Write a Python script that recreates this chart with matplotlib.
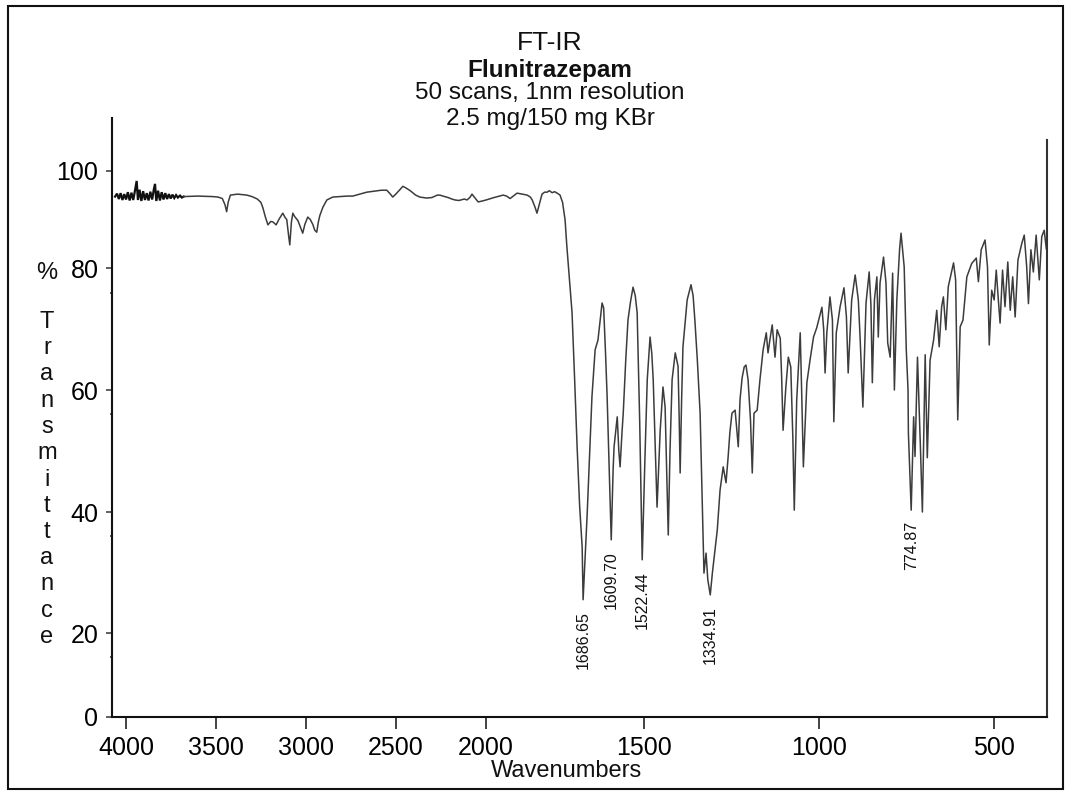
import numpy as np
import matplotlib
matplotlib.use("Agg")
import matplotlib.pyplot as plt
from matplotlib.patches import Rectangle

# spectrum (cm-1, %T)
WAVENUMBER = [
    4061, 4050, 4040, 4030, 4020, 4010, 4000, 3990, 3980, 3970, 3960, 3950, 3941, 3934,
    3925, 3915, 3905, 3895, 3885, 3875, 3865, 3855, 3845, 3839, 3832, 3822, 3812, 3802,
    3792, 3782, 3772, 3762, 3752, 3742, 3732, 3722, 3712, 3700, 3690, 3680,
    3600, 3520, 3489, 3465, 3450, 3441, 3432, 3420, 3380, 3328, 3300, 3270, 3250, 3239,
    3225, 3211, 3195, 3183, 3165, 3150, 3128, 3115, 3106, 3095, 3089, 3080, 3072, 3062,
    3044, 3017, 3005, 2989, 2975, 2961, 2950, 2939, 2930, 2922, 2905, 2883, 2850, 2811,
    2770, 2739, 2700, 2661, 2620, 2580, 2550, 2530, 2517, 2500, 2475, 2461, 2445, 2420,
    2390, 2367, 2330, 2300, 2270, 2256, 2239, 2210, 2190, 2172, 2150, 2120, 2106, 2090,
    2078, 2065, 2044, 2020, 2000, 1975, 1946, 1935, 1924, 1910, 1902, 1885, 1870, 1860,
    1854, 1845, 1839, 1832, 1823, 1815, 1807, 1800, 1791, 1783, 1775, 1766, 1758, 1750,
    1745, 1741, 1735, 1728, 1720, 1712, 1704, 1696, 1693, 1686, 1680, 1672, 1665, 1655,
    1646, 1640, 1633, 1628, 1622, 1617, 1610, 1604, 1598, 1595, 1585, 1580, 1576, 1570,
    1566, 1558, 1551, 1543, 1535, 1528, 1522, 1514, 1506, 1498, 1491, 1483, 1478, 1474,
    1468, 1463, 1458, 1454, 1446, 1440, 1436, 1431, 1426, 1420, 1411, 1403, 1400, 1397,
    1393, 1389, 1377, 1366, 1360, 1355, 1348, 1340, 1334, 1329, 1323, 1318, 1311, 1305,
    1298, 1291, 1283, 1274, 1266, 1260, 1255, 1249, 1240, 1231, 1226, 1220, 1214, 1209,
    1203, 1196, 1191, 1186, 1177, 1169, 1160, 1151, 1146, 1140, 1134, 1126, 1120, 1111,
    1107, 1103, 1095, 1088, 1081, 1075, 1071, 1064, 1054, 1050, 1045, 1035, 1026, 1016,
    1007, 992, 987, 983, 978, 969, 962, 958, 951, 940, 929, 922, 917, 907, 897, 888, 883,
    875, 866, 857, 852, 848, 842, 835, 831, 826, 816, 809, 804, 797, 790, 785, 778, 770,
    766, 757, 751, 746, 745, 737, 730, 726, 719, 711, 705, 697, 691, 683, 673, 664, 657,
    650, 645, 638, 631, 616, 610, 604, 597, 589, 578, 564, 551, 545, 537, 526, 519, 514,
    507, 500, 494, 488, 483, 476, 469, 461, 454, 447, 440, 432, 421, 414, 407, 402, 395,
    388, 380, 371, 364, 357, 351,
]
TRANSMITTANCE = [
    94.7, 95.3, 94.2, 95.4, 94.0, 95.2, 94.1, 95.6, 93.9, 95.5, 94.0, 96.0, 97.9, 94.0,
    96.1, 93.8, 95.8, 94.0, 95.4, 93.9, 95.7, 94.1, 96.3, 97.3, 93.8, 95.9, 93.9, 95.6,
    94.1, 95.4, 94.2, 95.2, 94.3, 95.1, 94.4, 95.0, 94.5, 94.9, 94.5, 94.7,
    94.8, 94.7, 94.6, 94.3, 93.0, 91.6, 93.6, 95.0, 95.2, 95.0, 94.7, 94.2, 93.5, 92.4,
    90.5, 88.9, 89.6, 89.5, 88.9, 90.0, 91.3, 90.4, 90.0, 86.5, 84.8, 89.5, 91.3, 90.6,
    89.8, 87.2, 89.0, 90.5, 90.0, 89.0, 87.8, 87.4, 89.5, 90.8, 92.5, 94.0, 94.6, 94.7,
    94.8, 94.8, 95.2, 95.6, 95.8, 96.0, 96.0, 95.2, 94.6, 95.2, 96.2, 96.8, 96.5, 95.9,
    95.0, 94.6, 94.4, 94.5, 95.0, 95.0, 94.8, 94.5, 94.2, 94.0, 93.9, 94.2, 94.0, 94.5,
    95.2, 94.6, 93.6, 93.8, 94.0, 94.5, 95.0, 94.8, 94.3, 95.0, 95.4, 95.2, 95.0, 94.6,
    94.0, 92.5, 91.3, 93.0, 95.2, 95.6, 95.6, 95.9, 95.5, 95.7, 95.4, 95.0, 93.5, 89.9,
    85.0, 81.7, 77.5, 72.7, 62.0, 50.7, 41.0, 34.2, 25.5, 33.0, 39.8, 50.0, 58.9, 66.6,
    68.2, 71.0, 74.3, 73.5, 66.0, 58.9, 46.0, 35.4, 47.0, 50.7, 55.6, 50.0, 47.4, 53.0,
    56.2, 65.0, 71.5, 74.5, 76.9, 75.5, 72.7, 55.0, 32.1, 48.0, 61.7, 68.7, 66.0, 61.7,
    50.0, 40.8, 48.0, 53.4, 60.5, 57.2, 48.0, 36.2, 50.0, 61.7, 66.1, 63.9, 56.0, 46.4,
    58.0, 67.1, 74.8, 77.3, 75.5, 71.5, 65.0, 56.2, 42.0, 29.9, 33.2, 28.8, 26.3, 29.9,
    33.5, 37.0, 43.6, 47.4, 44.8, 49.0, 53.0, 56.2, 56.7, 50.7, 58.4, 62.0, 63.8, 64.1,
    61.7, 55.0, 46.4, 56.2, 56.7, 61.7, 66.6, 69.4, 66.1, 68.5, 70.7, 65.4, 69.9, 68.5,
    62.0, 53.4, 60.5, 65.4, 63.8, 52.0, 40.3, 58.4, 69.4, 60.0, 47.4, 61.2, 64.9, 68.7,
    70.2, 73.6, 70.0, 62.8, 69.4, 75.3, 71.5, 54.8, 69.4, 73.7, 76.8, 72.0, 62.8, 74.8,
    78.9, 74.8, 68.7, 57.2, 74.3, 79.4, 74.0, 61.2, 74.8, 78.6, 68.7, 77.6, 82.3, 77.6,
    67.7, 65.4, 79.2, 60.0, 74.8, 84.0, 87.2, 80.3, 66.6, 60.0, 53.0, 40.3, 55.6, 49.1,
    65.4, 51.3, 40.0, 65.8, 48.9, 64.9, 68.2, 73.1, 67.1, 73.7, 75.3, 69.9, 77.0, 81.1,
    78.1, 55.1, 70.4, 71.5, 78.6, 81.0, 82.1, 77.8, 83.8, 85.8, 80.3, 67.4, 76.4, 74.8,
    79.7, 74.8, 71.0, 79.7, 73.7, 81.3, 73.1, 78.6, 72.0, 81.7, 85.1, 86.8, 80.3, 74.2,
    83.8, 79.4, 86.8, 78.1, 86.5, 87.8, 84.0,
]

PEAK_LABELS = ["1686.65", "1609.70", "1522.44", "1334.91", "774.87"]
TITLE_LINES = ["FT-IR", "Flunitrazepam", "50 scans, 1nm resolution", "2.5 mg/150 mg KBr"]

X_TICKS = [4000, 3500, 3000, 2500, 2000, 1500, 1000, 500]
Y_TICKS = [0, 20, 40, 60, 80, 100]
# the reference axes are not evenly spaced (expanded below 2000 cm-1),
# so keep the screen distance from the first tick for each one
X_TICK_DIST = [0, 90, 179.7, 269.7, 360, 518, 693, 868]
Y_TICK_DIST = [0, 84, 205, 327, 448.7, 546.3]


def piecewise(xp, fp):
    xp = np.asarray(xp, float)
    fp = np.asarray(fp, float)
    lo = (fp[1] - fp[0]) / (xp[1] - xp[0])
    hi = (fp[-1] - fp[-2]) / (xp[-1] - xp[-2])

    def f(v):
        v = np.asarray(v, float)
        out = np.interp(v, xp, fp)
        out = np.where(v < xp[0], fp[0] + (v - xp[0]) * lo, out)
        out = np.where(v > xp[-1], fp[-1] + (v - xp[-1]) * hi, out)
        return out

    return f


def build():
    plt.rcParams.update({
        "font.family": ["Liberation Sans", "DejaVu Sans"],
        "axes.linewidth": 1.5,
    })
    narrow = ["Liberation Sans Narrow", "Liberation Sans", "DejaVu Sans"]

    fig = plt.figure(figsize=(10.70, 7.91), dpi=100)
    ax = fig.add_axes([112 / 1070, 74 / 791, 935 / 1070, 599 / 791])

    # distance from the 4000 tick grows as wavenumber falls; negate so the
    # scale function is increasing, the axis is then flipped by set_xlim
    neg_ticks = [-t for t in X_TICKS]
    dist = piecewise(neg_ticks, X_TICK_DIST)
    dist_inv = piecewise(X_TICK_DIST, neg_ticks)
    ax.set_xscale("function", functions=(lambda v: -dist(-np.asarray(v, float)),
                                         lambda s: -dist_inv(-np.asarray(s, float))))
    ax.set_yscale("function", functions=(piecewise(Y_TICKS, Y_TICK_DIST),
                                         piecewise(Y_TICK_DIST, Y_TICKS)))

    wn = np.array(WAVENUMBER, float)
    tr = np.array(TRANSMITTANCE, float)
    noisy = wn >= 3680
    rest = wn <= 3680
    ax.plot(wn[noisy], tr[noisy], color="#111111", lw=1.6, solid_joinstyle="miter")
    ax.plot(wn[rest], tr[rest], color="#3c3c3c", lw=1.1)

    for text in PEAK_LABELS:
        target = float(text)
        near = np.abs(wn - target) <= 45
        idx = np.flatnonzero(near)[np.argmin(tr[near])]
        ax.annotate(text, (wn[idx], tr[idx]), xytext=(0, -8), textcoords="offset points",
                    rotation=90, ha="center", va="top", fontsize=11.5, color="#111111")

    ax.set_xlim(4078, 349)
    ax.set_ylim(0, 110.8)
    ax.set_xticks(X_TICKS)
    ax.set_xticklabels([str(t) for t in X_TICKS], family=narrow, fontsize=18)
    ax.set_yticks(Y_TICKS)
    ax.set_yticklabels([str(t) for t in Y_TICKS], family=narrow, fontsize=18)
    ax.set_yticks([14.3, 36, 56, 76], minor=True)
    ax.xaxis.set_minor_locator(matplotlib.ticker.NullLocator())
    ax.tick_params(axis="x", length=8.6, width=1.2, pad=5, color="#222222")
    ax.tick_params(axis="y", which="major", length=4.3, width=1.2, pad=5.5, color="#444444")
    ax.tick_params(axis="y", which="minor", length=1.5, width=1.2, color="#444444")

    ax.spines["top"].set_visible(False)
    ax.spines["right"].set_bounds(0, 106.3)
    ax.spines["right"].set_color("#333333")
    for side in ["left", "bottom"]:
        ax.spines[side].set_color("#111111")

    # titles
    title_y = [43, 71, 93, 119]
    styles = [dict(fontsize=19, family=narrow), dict(fontsize=17.5, fontweight="bold"),
              dict(fontsize=17.5), dict(fontsize=17.5)]
    for line, yy, st in zip(TITLE_LINES, title_y, styles):
        fig.text(550 / 1070, 1 - yy / 791, line, ha="center", va="center", color="#111111", **st)

    fig.text(567 / 1070, 1 - 771 / 791, "Wavenumbers", ha="center", va="center",
             fontsize=17, color="#111111")

    # stacked y label
    fig.text(47 / 1070, 1 - 273 / 791, "%", ha="center", va="center", fontsize=17, color="#111111")
    for i, ch in enumerate("Transmittance"):
        fig.text(47 / 1070, 1 - (322 + i * 26.25) / 791, ch, ha="center", va="center",
                 fontsize=17, color="#111111")

    fig.add_artist(Rectangle((8 / 1070, 2 / 791), 1055 / 1070, 783 / 791, transform=fig.transFigure,
                             fill=False, edgecolor="#111111", lw=1.5))

    fig.savefig("out.png", dpi=100)
    plt.close(fig)


if __name__ == "__main__":
    build()
